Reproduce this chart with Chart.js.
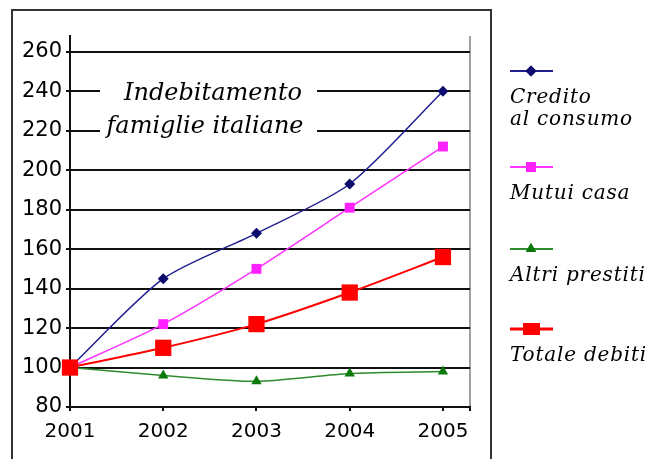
<!DOCTYPE html>
<html>
<head>
<meta charset="utf-8">
<script src="https://cdn.jsdelivr.net/npm/chart.js@4.4.1/dist/chart.umd.min.js"></script>
<style>
  html, body { margin: 0; padding: 0; background: #fff; }
  #wrap { width: 651px; height: 459px; }
</style>
</head>
<body>
<div id="wrap"><canvas id="grafico" width="651" height="459"></canvas></div>
<script>
// indici 2001 = 100
const anni = [2001, 2002, 2003, 2004, 2005];
const creditoConsumo = [100, 145, 168, 193, 240];
const mutuiCasa = [100, 122, 150, 181, 212];
const altriPrestiti = [100, 96, 93, 97, 98];
const totaleDebiti = [100, 110, 122, 138, 156];

const nomiSerie = [['Credito', 'al consumo'], ['Mutui casa'], ['Altri prestiti'], ['Totale debiti']];
const tickY = [80, 100, 120, 140, 160, 180, 200, 220, 240, 260];
const titolo = ['Indebitamento', 'famiglie italiane'];

const X_MAX = 2005.29;
const Y_MAX = 268;

const punti = serie => anni.map((a, i) => ({ x: a, y: serie[i] }));

// cornice esterna
const cornice = {
  id: 'cornice',
  beforeDraw(chart) {
    const ctx = chart.ctx;
    ctx.save();
    ctx.fillStyle = '#fff';
    ctx.fillRect(0, 0, chart.width, chart.height);
    ctx.strokeStyle = '#333';
    ctx.lineWidth = 2;
    ctx.beginPath();
    ctx.moveTo(12, 459);
    ctx.lineTo(12, 10);
    ctx.lineTo(491, 10);
    ctx.lineTo(491, 459);
    ctx.stroke();
    ctx.restore();
  }
};

// titolo dentro l'area del grafico, su fondo bianco
const titoloBox = {
  id: 'titoloBox',
  beforeDatasetsDraw(chart) {
    const ctx = chart.ctx;
    ctx.save();
    ctx.fillStyle = '#fff';
    ctx.fillRect(100, 70, 217, 76);
    ctx.fillStyle = '#000';
    ctx.font = 'italic 24px "DejaVu Serif"';
    ctx.textAlign = 'center';
    ctx.textBaseline = 'alphabetic';
    ctx.fillText(titolo[0], 213, 100);
    ctx.fillText(titolo[1], 205, 133);
    ctx.restore();
  }
};

// legenda a destra: campione di linea + nome sotto
const legendaY = [71, 167, 249, 329];
const legenda = {
  id: 'legenda',
  afterDraw(chart) {
    const ctx = chart.ctx;
    ctx.save();
    chart.data.datasets.forEach((ds, i) => {
      const y = legendaY[i];
      const x0 = 510;
      ctx.strokeStyle = ds.borderColor;
      ctx.lineWidth = i === 3 ? 3 : 2;
      ctx.beginPath();
      ctx.moveTo(x0, y);
      ctx.lineTo(x0 + 43, y);
      ctx.stroke();
      ctx.fillStyle = ds.pointBackgroundColor;
      if (i === 3) {
        ctx.fillRect(x0 + 13, y - 6, 17, 12);
      } else {
        Chart.helpers.drawPoint(ctx, {
          pointStyle: ds.pointStyle,
          rotation: 0,
          radius: ds.pointRadius,
          borderWidth: 0
        }, x0 + 21, y);
        ctx.fill();
      }
      ctx.fillStyle = '#000';
      ctx.font = 'italic 20px "DejaVu Serif"';
      ctx.letterSpacing = '0.8px';
      ctx.textAlign = 'left';
      ctx.textBaseline = 'alphabetic';
      nomiSerie[i].forEach((riga, k) => {
        ctx.fillText(riga, x0, y + 32 + k * 22);
      });
    });
    ctx.restore();
  }
};

new Chart(document.getElementById('grafico'), {
  type: 'line',
  data: {
    datasets: [
      {
        label: nomiSerie[0].join(' '),
        data: punti(creditoConsumo),
        borderColor: '#1f1f8f',
        pointBackgroundColor: '#0c0c6e',
        borderWidth: 1.5,
        pointStyle: 'rectRot',
        pointRadius: 5.5,
        pointBorderWidth: 0,
        tension: 0.25,
        order: 1
      },
      {
        label: nomiSerie[1].join(' '),
        data: punti(mutuiCasa),
        borderColor: '#ff33ff',
        pointBackgroundColor: '#ff22ff',
        borderWidth: 1.5,
        pointStyle: 'rect',
        pointRadius: 7,
        pointBorderWidth: 0,
        tension: 0.25,
        order: 2
      },
      {
        label: nomiSerie[2].join(' '),
        data: punti(altriPrestiti),
        borderColor: '#2e8b2e',
        pointBackgroundColor: '#0b7a0b',
        borderWidth: 1.5,
        pointStyle: 'triangle',
        pointRadius: 6,
        pointBorderWidth: 0,
        tension: 0.25,
        order: 3
      },
      {
        label: nomiSerie[3].join(' '),
        data: punti(totaleDebiti),
        borderColor: '#ff0000',
        pointBackgroundColor: '#ff0000',
        borderWidth: 2,
        pointStyle: 'rect',
        pointRadius: 11.5,
        pointBorderWidth: 0,
        tension: 0.25,
        order: 0
      }
    ]
  },
  options: {
    responsive: false,
    animation: false,
    devicePixelRatio: 1,
    clip: false,
    layout: { padding: { top: 36, right: 181, left: 0, bottom: 0 } },
    plugins: {
      legend: { display: false },
      title: { display: false },
      tooltip: { enabled: false }
    },
    scales: {
      x: {
        type: 'linear',
        min: 2001,
        max: X_MAX,
        afterBuildTicks: s => { s.ticks = anni.concat([X_MAX]).map(v => ({ value: v })); },
        afterFit: s => { s.height = 52; },
        ticks: {
          callback: v => anni.includes(v) ? String(v) : '',
          color: '#000',
          font: { family: 'DejaVu Sans', size: 20 },
          padding: 9,
          maxRotation: 0,
          autoSkip: false
        },
        grid: {
          color: c => c.index === anni.length ? '#a0a0a0' : 'rgba(0,0,0,0)',
          tickColor: '#111',
          tickLength: 4,
          lineWidth: 2
        },
        border: { color: '#111', width: 2 }
      },
      y: {
        min: 80,
        max: Y_MAX,
        afterBuildTicks: s => { s.ticks = tickY.map(v => ({ value: v })); },
        afterFit: s => { s.width = 70; },
        ticks: {
          color: '#000',
          font: { family: 'DejaVu Sans', size: 21 },
          padding: 4
        },
        grid: {
          color: '#111',
          tickColor: '#111',
          tickLength: 4,
          lineWidth: 2
        },
        border: { color: '#111', width: 2 }
      }
    }
  },
  plugins: [cornice, titoloBox, legenda]
});
</script>
</body>
</html>
